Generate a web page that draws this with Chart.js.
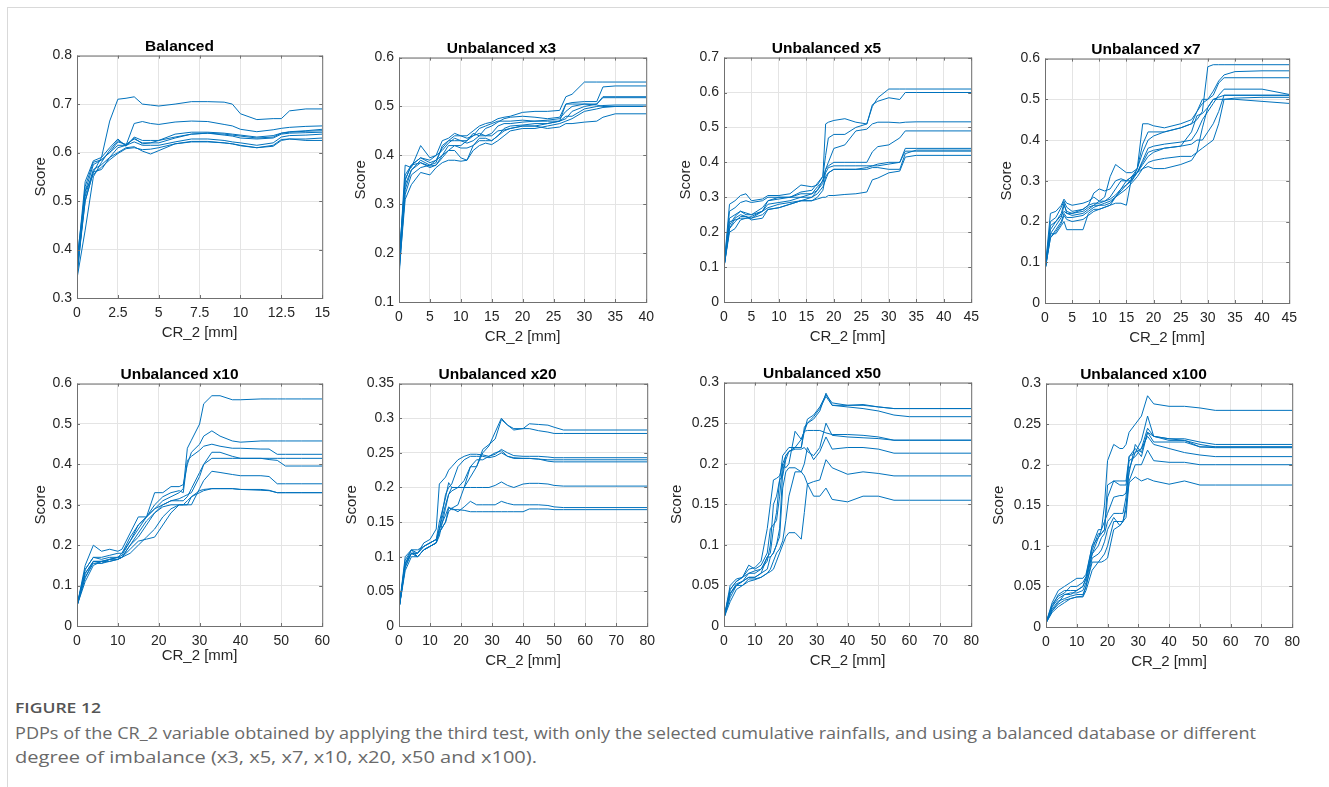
<!DOCTYPE html>
<html>
<head>
<meta charset="utf-8">
<title>PDPs of CR_2</title>
<script src="https://cdn.jsdelivr.net/npm/chart.js@4.4.1/dist/chart.umd.min.js"></script>
<style>
  html, body { margin: 0; padding: 0; background: #fff; }
  body { width: 1329px; height: 787px; position: relative; overflow: hidden; }
  #frame { position: absolute; left: 7px; top: 7px; right: 0; bottom: 0;
           border-top: 1px solid #d9d9d9; border-left: 1px solid #d9d9d9; }
  canvas.pdp { position: absolute; }
  .cap { position: absolute; left: 15px; white-space: nowrap; transform-origin: 0 50%;
         font-family: "Open Sans", "Noto Sans", sans-serif; }
  #capHead { top: 697px; font-size: 15px; line-height: 20px; font-weight: 600; color: #555; }
  .capLine { font-size: 16px; line-height: 24px; color: #6a6a6a; }
  #capLine1 { top: 721px; }
  #capLine2 { top: 745px; }
</style>
</head>
<body>
<div id="frame"></div>
<div id="capHead" class="cap" data-w="86">FIGURE 12</div>
<div id="capLine1" class="cap capLine" data-w="1241">PDPs of the CR_2 variable obtained by applying the third test, with only the selected cumulative rainfalls, and using a balanced database or different</div>
<div id="capLine2" class="cap capLine" data-w="522">degree of imbalance (x3, x5, x7, x10, x20, x50 and x100).</div>

<script>
// ---- Balanced ----
const xBal = [0, 0.5, 1, 1.5, 2, 2.5, 3, 3.5, 4, 4.5, 5, 6, 7, 8, 9, 9.5, 10, 11, 12, 12.5, 13, 14, 15];
const yBal = [
  [0.36, 0.50, 0.56, 0.59, 0.665, 0.71, 0.712, 0.715, 0.70, 0.698, 0.696, 0.70, 0.705, 0.705, 0.704, 0.70, 0.68, 0.668, 0.67, 0.67, 0.686, 0.69, 0.69],
  [0.35, 0.53, 0.58, 0.585, 0.60, 0.615, 0.615, 0.66, 0.664, 0.66, 0.658, 0.663, 0.665, 0.664, 0.658, 0.655, 0.648, 0.643, 0.647, 0.65, 0.652, 0.654, 0.655],
  [0.37, 0.54, 0.583, 0.59, 0.61, 0.628, 0.613, 0.632, 0.625, 0.625, 0.625, 0.638, 0.642, 0.642, 0.64, 0.638, 0.636, 0.632, 0.635, 0.64, 0.643, 0.645, 0.648],
  [0.34, 0.52, 0.575, 0.585, 0.60, 0.622, 0.617, 0.628, 0.62, 0.62, 0.62, 0.63, 0.638, 0.64, 0.638, 0.636, 0.634, 0.63, 0.632, 0.64, 0.642, 0.644, 0.645],
  [0.36, 0.51, 0.565, 0.575, 0.59, 0.61, 0.615, 0.622, 0.615, 0.615, 0.615, 0.622, 0.628, 0.628, 0.625, 0.622, 0.62, 0.615, 0.62, 0.632, 0.635, 0.636, 0.638],
  [0.35, 0.50, 0.56, 0.565, 0.59, 0.60, 0.61, 0.612, 0.603, 0.597, 0.604, 0.618, 0.623, 0.623, 0.62, 0.618, 0.615, 0.61, 0.613, 0.625, 0.628, 0.628, 0.63],
  [0.38, 0.52, 0.555, 0.57, 0.585, 0.598, 0.608, 0.61, 0.606, 0.607, 0.61, 0.618, 0.622, 0.622, 0.62, 0.618, 0.614, 0.61, 0.615, 0.627, 0.628, 0.625, 0.625],
  [0.34, 0.44, 0.55, 0.58, 0.605, 0.625, 0.615, 0.63, 0.618, 0.62, 0.625, 0.632, 0.638, 0.64, 0.636, 0.634, 0.63, 0.628, 0.63, 0.638, 0.64, 0.641, 0.642]
];
const xTicksBal = [0, 2.5, 5, 7.5, 10, 12.5, 15];
const yTicksBal = [0.3, 0.4, 0.5, 0.6, 0.7, 0.8];

// ---- Unbalanced x3 ----
const xU3 = [0, 1, 2, 3.5, 5, 6, 7, 8, 9, 10, 11, 12, 13, 14, 15, 16, 17, 18, 20, 22, 24, 26, 27, 28, 30, 32, 33, 35, 40];
const yU3 = [
  [0.16, 0.35, 0.38, 0.395, 0.39, 0.40, 0.43, 0.435, 0.445, 0.44, 0.44, 0.45, 0.46, 0.465, 0.468, 0.475, 0.478, 0.48, 0.488, 0.49, 0.49, 0.492, 0.52, 0.525, 0.55, 0.55, 0.55, 0.55, 0.55],
  [0.17, 0.38, 0.375, 0.42, 0.395, 0.40, 0.41, 0.425, 0.435, 0.43, 0.425, 0.43, 0.44, 0.455, 0.46, 0.468, 0.475, 0.478, 0.48, 0.478, 0.475, 0.478, 0.505, 0.508, 0.51, 0.51, 0.54, 0.542, 0.542],
  [0.18, 0.34, 0.37, 0.39, 0.38, 0.385, 0.42, 0.43, 0.43, 0.43, 0.43, 0.44, 0.445, 0.44, 0.445, 0.46, 0.465, 0.465, 0.468, 0.47, 0.472, 0.475, 0.49, 0.50, 0.505, 0.505, 0.52, 0.52, 0.52],
  [0.15, 0.33, 0.37, 0.385, 0.378, 0.38, 0.395, 0.41, 0.42, 0.415, 0.415, 0.42, 0.43, 0.43, 0.43, 0.44, 0.455, 0.46, 0.462, 0.465, 0.465, 0.47, 0.475, 0.49, 0.50, 0.505, 0.518, 0.518, 0.518],
  [0.17, 0.32, 0.36, 0.375, 0.38, 0.39, 0.40, 0.41, 0.41, 0.395, 0.39, 0.42, 0.435, 0.435, 0.43, 0.44, 0.45, 0.455, 0.46, 0.46, 0.465, 0.47, 0.48, 0.48, 0.495, 0.50, 0.502, 0.503, 0.503],
  [0.16, 0.31, 0.34, 0.365, 0.36, 0.375, 0.385, 0.39, 0.39, 0.388, 0.39, 0.41, 0.42, 0.425, 0.422, 0.43, 0.44, 0.45, 0.455, 0.455, 0.46, 0.465, 0.47, 0.475, 0.49, 0.495, 0.498, 0.50, 0.50],
  [0.19, 0.35, 0.38, 0.385, 0.375, 0.38, 0.40, 0.42, 0.42, 0.42, 0.43, 0.445, 0.44, 0.44, 0.44, 0.45, 0.452, 0.455, 0.46, 0.46, 0.455, 0.458, 0.465, 0.465, 0.468, 0.47, 0.478, 0.485, 0.485],
  [0.17, 0.36, 0.38, 0.395, 0.385, 0.39, 0.415, 0.43, 0.44, 0.44, 0.435, 0.44, 0.455, 0.46, 0.465, 0.47, 0.47, 0.47, 0.472, 0.47, 0.47, 0.47, 0.505, 0.505, 0.505, 0.503, 0.50, 0.50, 0.50]
];
const xTicksU3 = [0, 5, 10, 15, 20, 25, 30, 35, 40];
const yTicksU3 = [0.1, 0.2, 0.3, 0.4, 0.5, 0.6];

// ---- Unbalanced x5 ----
const xU5 = [0, 1, 2, 3, 4, 5, 7, 8, 10, 12, 14, 16, 17, 18, 18.5, 19, 20, 22, 24, 26, 27, 28, 30, 32, 33, 35, 45];
const yU5 = [
  [0.10, 0.28, 0.29, 0.305, 0.31, 0.29, 0.295, 0.305, 0.305, 0.31, 0.335, 0.33, 0.335, 0.36, 0.51, 0.515, 0.52, 0.525, 0.515, 0.51, 0.56, 0.585, 0.61, 0.61, 0.61, 0.61, 0.61],
  [0.10, 0.26, 0.27, 0.285, 0.29, 0.285, 0.29, 0.30, 0.30, 0.30, 0.315, 0.32, 0.34, 0.36, 0.42, 0.47, 0.48, 0.48, 0.50, 0.51, 0.565, 0.575, 0.585, 0.58, 0.60, 0.60, 0.60],
  [0.10, 0.24, 0.25, 0.26, 0.25, 0.25, 0.27, 0.29, 0.30, 0.30, 0.30, 0.31, 0.33, 0.345, 0.38, 0.40, 0.44, 0.45, 0.49, 0.495, 0.51, 0.515, 0.515, 0.513, 0.515, 0.516, 0.516],
  [0.10, 0.22, 0.245, 0.26, 0.255, 0.25, 0.26, 0.28, 0.285, 0.29, 0.30, 0.30, 0.32, 0.35, 0.38, 0.39, 0.40, 0.40, 0.40, 0.40, 0.43, 0.445, 0.45, 0.47, 0.49, 0.49, 0.49],
  [0.10, 0.21, 0.24, 0.25, 0.245, 0.24, 0.26, 0.29, 0.295, 0.30, 0.31, 0.31, 0.32, 0.34, 0.37, 0.385, 0.39, 0.39, 0.39, 0.39, 0.39, 0.395, 0.40, 0.40, 0.44, 0.44, 0.44],
  [0.10, 0.20, 0.21, 0.235, 0.24, 0.24, 0.25, 0.265, 0.27, 0.28, 0.29, 0.30, 0.31, 0.33, 0.35, 0.37, 0.38, 0.38, 0.38, 0.385, 0.39, 0.39, 0.395, 0.40, 0.432, 0.432, 0.432],
  [0.10, 0.21, 0.23, 0.245, 0.245, 0.235, 0.24, 0.265, 0.27, 0.28, 0.29, 0.29, 0.30, 0.32, 0.36, 0.37, 0.38, 0.38, 0.38, 0.38, 0.385, 0.385, 0.38, 0.38, 0.425, 0.435, 0.435],
  [0.10, 0.23, 0.235, 0.24, 0.24, 0.245, 0.26, 0.27, 0.28, 0.285, 0.29, 0.29, 0.295, 0.30, 0.30, 0.305, 0.305, 0.308, 0.31, 0.315, 0.35, 0.355, 0.37, 0.375, 0.415, 0.42, 0.42]
];
const xTicksU5 = [0, 5, 10, 15, 20, 25, 30, 35, 40, 45];
const yTicksU5 = [0, 0.1, 0.2, 0.3, 0.4, 0.5, 0.6, 0.7];

// ---- Unbalanced x7 ----
const xU7 = [0, 1, 2, 3, 3.5, 4, 5, 7, 8, 9, 10, 11, 12, 13, 14, 15, 16, 17, 18, 19, 20, 22, 25, 27, 28, 29, 30, 31, 32, 33, 35, 40, 45];
const yU7 = [
  [0.08, 0.22, 0.225, 0.24, 0.255, 0.245, 0.24, 0.245, 0.25, 0.26, 0.25, 0.25, 0.26, 0.28, 0.30, 0.30, 0.31, 0.33, 0.37, 0.40, 0.41, 0.42, 0.43, 0.44, 0.45, 0.47, 0.58, 0.585, 0.585, 0.585, 0.585, 0.585, 0.585],
  [0.08, 0.20, 0.21, 0.235, 0.25, 0.235, 0.225, 0.23, 0.24, 0.27, 0.28, 0.275, 0.28, 0.30, 0.305, 0.30, 0.30, 0.33, 0.44, 0.44, 0.435, 0.43, 0.44, 0.45, 0.47, 0.49, 0.50, 0.52, 0.545, 0.56, 0.568, 0.57, 0.57],
  [0.08, 0.18, 0.20, 0.22, 0.245, 0.22, 0.215, 0.22, 0.23, 0.24, 0.25, 0.26, 0.31, 0.34, 0.33, 0.32, 0.32, 0.33, 0.39, 0.42, 0.42, 0.42, 0.43, 0.44, 0.47, 0.50, 0.50, 0.51, 0.54, 0.553, 0.553, 0.553, 0.553],
  [0.08, 0.17, 0.19, 0.21, 0.24, 0.225, 0.22, 0.225, 0.235, 0.24, 0.24, 0.245, 0.25, 0.26, 0.28, 0.30, 0.31, 0.32, 0.35, 0.38, 0.385, 0.39, 0.395, 0.40, 0.42, 0.45, 0.47, 0.49, 0.51, 0.525, 0.525, 0.525, 0.512],
  [0.08, 0.16, 0.18, 0.20, 0.22, 0.21, 0.21, 0.215, 0.225, 0.235, 0.24, 0.24, 0.245, 0.26, 0.275, 0.29, 0.305, 0.32, 0.34, 0.36, 0.37, 0.38, 0.385, 0.39, 0.40, 0.40, 0.42, 0.44, 0.47, 0.51, 0.51, 0.51, 0.51],
  [0.08, 0.17, 0.17, 0.19, 0.20, 0.18, 0.18, 0.18, 0.22, 0.23, 0.23, 0.235, 0.24, 0.26, 0.27, 0.28, 0.295, 0.31, 0.33, 0.345, 0.35, 0.355, 0.36, 0.36, 0.37, 0.38, 0.39, 0.40, 0.44, 0.50, 0.503, 0.505, 0.505],
  [0.08, 0.16, 0.175, 0.195, 0.215, 0.205, 0.20, 0.205, 0.215, 0.225, 0.23, 0.235, 0.24, 0.245, 0.245, 0.24, 0.31, 0.32, 0.33, 0.335, 0.33, 0.33, 0.34, 0.35, 0.37, 0.43, 0.48, 0.50, 0.50, 0.50, 0.50, 0.495, 0.49],
  [0.08, 0.19, 0.20, 0.215, 0.225, 0.22, 0.22, 0.23, 0.24, 0.245, 0.245, 0.25, 0.255, 0.265, 0.28, 0.29, 0.30, 0.32, 0.345, 0.37, 0.375, 0.38, 0.385, 0.42, 0.46, 0.465, 0.48, 0.50, 0.505, 0.51, 0.51, 0.51, 0.51]
];
const xTicksU7 = [0, 5, 10, 15, 20, 25, 30, 35, 40, 45];
const yTicksU7 = [0, 0.1, 0.2, 0.3, 0.4, 0.5, 0.6];

// ---- Unbalanced x10 ----
const xU10 = [0, 2, 4, 6, 8, 10, 11, 13, 15, 17, 19, 21, 23, 25, 26, 27, 28, 30, 31, 33, 35, 38, 40, 45, 47, 49, 51, 55, 60];
const yU10 = [
  [0.05, 0.14, 0.17, 0.17, 0.175, 0.18, 0.18, 0.21, 0.24, 0.27, 0.29, 0.31, 0.32, 0.33, 0.34, 0.44, 0.46, 0.50, 0.55, 0.57, 0.57, 0.56, 0.56, 0.562, 0.562, 0.562, 0.562, 0.562, 0.562],
  [0.05, 0.15, 0.20, 0.185, 0.19, 0.185, 0.19, 0.23, 0.27, 0.27, 0.33, 0.33, 0.345, 0.345, 0.35, 0.40, 0.43, 0.45, 0.47, 0.483, 0.47, 0.458, 0.455, 0.458, 0.458, 0.458, 0.458, 0.458, 0.458],
  [0.05, 0.14, 0.17, 0.165, 0.17, 0.17, 0.18, 0.22, 0.25, 0.27, 0.30, 0.32, 0.33, 0.335, 0.33, 0.41, 0.42, 0.435, 0.445, 0.45, 0.445, 0.44, 0.44, 0.438, 0.438, 0.425, 0.425, 0.425, 0.425],
  [0.05, 0.13, 0.16, 0.16, 0.165, 0.17, 0.175, 0.21, 0.25, 0.27, 0.29, 0.30, 0.31, 0.315, 0.32, 0.325, 0.33, 0.37, 0.40, 0.43, 0.43, 0.42, 0.415, 0.415, 0.415, 0.415, 0.415, 0.415, 0.415],
  [0.05, 0.12, 0.155, 0.155, 0.165, 0.165, 0.17, 0.20, 0.23, 0.26, 0.28, 0.30, 0.31, 0.31, 0.31, 0.32, 0.34, 0.38, 0.40, 0.415, 0.415, 0.415, 0.415, 0.415, 0.412, 0.41, 0.396, 0.396, 0.396],
  [0.05, 0.13, 0.16, 0.16, 0.165, 0.17, 0.17, 0.20, 0.22, 0.25, 0.28, 0.295, 0.30, 0.30, 0.30, 0.30, 0.30, 0.34, 0.36, 0.383, 0.38, 0.375, 0.372, 0.372, 0.37, 0.352, 0.352, 0.352, 0.352],
  [0.05, 0.12, 0.16, 0.155, 0.16, 0.165, 0.17, 0.18, 0.20, 0.22, 0.24, 0.27, 0.29, 0.30, 0.30, 0.30, 0.32, 0.335, 0.338, 0.34, 0.34, 0.34, 0.338, 0.338, 0.336, 0.33, 0.33, 0.33, 0.33],
  [0.05, 0.11, 0.15, 0.16, 0.16, 0.165, 0.17, 0.19, 0.21, 0.215, 0.22, 0.25, 0.28, 0.30, 0.30, 0.31, 0.32, 0.33, 0.335, 0.34, 0.34, 0.34, 0.338, 0.336, 0.335, 0.33, 0.33, 0.33, 0.33]
];
const xTicksU10 = [0, 10, 20, 30, 40, 50, 60];
const yTicksU10 = [0, 0.1, 0.2, 0.3, 0.4, 0.5, 0.6];

// ---- Unbalanced x20 ----
const xU20 = [0, 2, 4, 6, 8, 10, 12, 13, 15, 16, 17, 19, 21, 23, 25, 27, 29, 31, 33, 35, 37, 40, 42, 45, 48, 50, 53, 60, 80];
const yU20 = [
  [0.025, 0.095, 0.11, 0.105, 0.115, 0.12, 0.125, 0.14, 0.175, 0.19, 0.20, 0.20, 0.20, 0.215, 0.23, 0.25, 0.26, 0.28, 0.30, 0.29, 0.283, 0.285, 0.292, 0.291, 0.29, 0.287, 0.283, 0.283, 0.283],
  [0.025, 0.10, 0.11, 0.11, 0.115, 0.12, 0.125, 0.135, 0.15, 0.165, 0.17, 0.175, 0.20, 0.23, 0.23, 0.255, 0.262, 0.27, 0.298, 0.29, 0.285, 0.285, 0.285, 0.282, 0.28, 0.278, 0.278, 0.278, 0.278],
  [0.025, 0.09, 0.105, 0.105, 0.12, 0.125, 0.14, 0.205, 0.215, 0.225, 0.23, 0.24, 0.245, 0.248, 0.248, 0.247, 0.245, 0.248, 0.255, 0.25, 0.246, 0.245, 0.245, 0.245, 0.244, 0.243, 0.243, 0.243, 0.243],
  [0.025, 0.085, 0.105, 0.10, 0.11, 0.115, 0.12, 0.14, 0.19, 0.20, 0.205, 0.23, 0.24, 0.245, 0.245, 0.245, 0.243, 0.245, 0.25, 0.245, 0.242, 0.242, 0.242, 0.241, 0.24, 0.24, 0.24, 0.24, 0.24],
  [0.025, 0.08, 0.10, 0.10, 0.11, 0.115, 0.12, 0.13, 0.17, 0.19, 0.195, 0.20, 0.21, 0.23, 0.24, 0.24, 0.245, 0.25, 0.253, 0.245, 0.243, 0.242, 0.242, 0.241, 0.238, 0.237, 0.237, 0.237, 0.237],
  [0.025, 0.09, 0.105, 0.105, 0.115, 0.12, 0.125, 0.15, 0.185, 0.207, 0.20, 0.20, 0.20, 0.20, 0.20, 0.20, 0.20, 0.203, 0.208, 0.203, 0.20, 0.205, 0.206, 0.206, 0.205, 0.203, 0.202, 0.202, 0.202],
  [0.025, 0.09, 0.11, 0.10, 0.11, 0.115, 0.12, 0.135, 0.15, 0.17, 0.17, 0.165, 0.172, 0.18, 0.175, 0.175, 0.175, 0.175, 0.18, 0.177, 0.175, 0.175, 0.175, 0.175, 0.174, 0.172, 0.171, 0.171, 0.171],
  [0.025, 0.085, 0.105, 0.10, 0.11, 0.115, 0.12, 0.14, 0.16, 0.172, 0.168, 0.168, 0.167, 0.165, 0.165, 0.165, 0.165, 0.165, 0.165, 0.165, 0.165, 0.165, 0.169, 0.169, 0.169, 0.168, 0.168, 0.168, 0.168]
];
const xTicksU20 = [0, 10, 20, 30, 40, 50, 60, 70, 80];
const yTicksU20 = [0, 0.05, 0.1, 0.15, 0.2, 0.25, 0.3, 0.35];

// ---- Unbalanced x50 ----
const xU50 = [0, 2, 4, 6, 8, 10, 12, 14, 15, 16, 17, 18, 19, 20, 21, 23, 25, 26, 27, 29, 31, 33, 35, 40, 45, 50, 55, 60, 80];
const yU50 = [
  [0.01, 0.045, 0.055, 0.06, 0.075, 0.07, 0.075, 0.09, 0.12, 0.125, 0.13, 0.16, 0.20, 0.21, 0.215, 0.22, 0.23, 0.24, 0.255, 0.26, 0.27, 0.285, 0.275, 0.272, 0.273, 0.27, 0.268, 0.268, 0.268],
  [0.01, 0.05, 0.058, 0.06, 0.065, 0.065, 0.07, 0.085, 0.09, 0.12, 0.14, 0.18, 0.21, 0.215, 0.22, 0.22, 0.22, 0.245, 0.25, 0.255, 0.265, 0.287, 0.272, 0.27, 0.268, 0.265, 0.26, 0.258, 0.258],
  [0.01, 0.045, 0.055, 0.06, 0.07, 0.072, 0.08, 0.12, 0.15, 0.18, 0.182, 0.185, 0.20, 0.195, 0.20, 0.24, 0.23, 0.24, 0.241, 0.241, 0.241, 0.238, 0.236, 0.236, 0.235, 0.233, 0.229, 0.229, 0.229],
  [0.01, 0.04, 0.052, 0.055, 0.06, 0.06, 0.065, 0.085, 0.085, 0.09, 0.10, 0.12, 0.19, 0.21, 0.215, 0.218, 0.218, 0.22, 0.215, 0.21, 0.22, 0.25, 0.235, 0.233, 0.232, 0.231, 0.229, 0.229, 0.229],
  [0.01, 0.04, 0.05, 0.055, 0.06, 0.06, 0.065, 0.07, 0.085, 0.09, 0.10, 0.11, 0.17, 0.19, 0.195, 0.195, 0.19, 0.20, 0.22, 0.205, 0.215, 0.233, 0.218, 0.22, 0.22, 0.218, 0.213, 0.213, 0.213],
  [0.01, 0.035, 0.05, 0.05, 0.058, 0.058, 0.06, 0.065, 0.07, 0.08, 0.09, 0.095, 0.105, 0.13, 0.16, 0.19, 0.19, 0.185, 0.175, 0.178, 0.18, 0.205, 0.195, 0.187, 0.19, 0.188, 0.185, 0.185, 0.185],
  [0.01, 0.03, 0.045, 0.05, 0.055, 0.057, 0.06, 0.065, 0.067, 0.07, 0.08, 0.09, 0.10, 0.11, 0.115, 0.115, 0.107, 0.14, 0.175, 0.16, 0.16, 0.17, 0.156, 0.153, 0.16, 0.16, 0.155, 0.155, 0.155],
  [0.01, 0.04, 0.05, 0.055, 0.065, 0.068, 0.07, 0.08, 0.10, 0.15, 0.16, 0.18, 0.185, 0.205, 0.215, 0.22, 0.22, 0.24, 0.25, 0.258, 0.268, 0.283, 0.272, 0.272, 0.272, 0.27, 0.268, 0.268, 0.268]
];
const xTicksU50 = [0, 10, 20, 30, 40, 50, 60, 70, 80];
const yTicksU50 = [0, 0.05, 0.1, 0.15, 0.2, 0.25, 0.3];

// ---- Unbalanced x100 ----
const xU100 = [0, 2, 4, 6, 8, 10, 12, 13, 15, 17, 18, 19, 20, 22, 24, 25, 26, 27, 29, 31, 33, 35, 40, 45, 50, 55, 80];
const yU100 = [
  [0.005, 0.03, 0.045, 0.05, 0.055, 0.06, 0.06, 0.065, 0.10, 0.12, 0.12, 0.15, 0.205, 0.225, 0.22, 0.22, 0.225, 0.24, 0.25, 0.26, 0.285, 0.275, 0.272, 0.272, 0.27, 0.267, 0.267],
  [0.005, 0.025, 0.04, 0.045, 0.045, 0.045, 0.05, 0.06, 0.095, 0.115, 0.115, 0.12, 0.175, 0.18, 0.18, 0.18, 0.18, 0.21, 0.215, 0.23, 0.26, 0.235, 0.232, 0.232, 0.228, 0.225, 0.225],
  [0.005, 0.025, 0.035, 0.04, 0.04, 0.045, 0.05, 0.06, 0.09, 0.11, 0.12, 0.13, 0.14, 0.16, 0.162, 0.162, 0.165, 0.19, 0.225, 0.215, 0.24, 0.235, 0.23, 0.23, 0.225, 0.222, 0.222],
  [0.005, 0.02, 0.03, 0.04, 0.042, 0.042, 0.045, 0.055, 0.09, 0.10, 0.11, 0.115, 0.13, 0.14, 0.14, 0.14, 0.16, 0.21, 0.22, 0.21, 0.24, 0.228, 0.228, 0.228, 0.222, 0.221, 0.221],
  [0.005, 0.022, 0.032, 0.035, 0.038, 0.04, 0.04, 0.05, 0.085, 0.09, 0.095, 0.105, 0.12, 0.135, 0.125, 0.13, 0.145, 0.195, 0.215, 0.22, 0.235, 0.225, 0.22, 0.215, 0.212, 0.21, 0.21],
  [0.005, 0.02, 0.028, 0.033, 0.035, 0.037, 0.038, 0.05, 0.08, 0.08, 0.085, 0.09, 0.10, 0.13, 0.13, 0.13, 0.135, 0.18, 0.20, 0.20, 0.218, 0.205, 0.203, 0.203, 0.20, 0.20, 0.20],
  [0.005, 0.018, 0.025, 0.03, 0.035, 0.037, 0.037, 0.045, 0.07, 0.08, 0.08, 0.082, 0.085, 0.12, 0.125, 0.13, 0.15, 0.178, 0.185, 0.18, 0.183, 0.18, 0.176, 0.18, 0.175, 0.175, 0.175],
  [0.005, 0.028, 0.038, 0.042, 0.05, 0.05, 0.055, 0.062, 0.10, 0.11, 0.115, 0.12, 0.16, 0.18, 0.175, 0.175, 0.175, 0.205, 0.21, 0.22, 0.245, 0.235, 0.232, 0.23, 0.222, 0.222, 0.222]
];
const xTicksU100 = [0, 10, 20, 30, 40, 50, 60, 70, 80];
const yTicksU100 = [0, 0.05, 0.1, 0.15, 0.2, 0.25, 0.3];

const LINE_COLOR = '#0072BD';
const FONT = '"Liberation Sans", Arial, Helvetica, sans-serif';

// canvas placement: left/top/width/height, y-axis width, x-axis height, gap under title
const panels = [
  { title: 'Balanced',        x: xBal,  ys: yBal,  xt: xTicksBal,  yt: yTicksBal,  box: [32, 37, 305, 305],  yw: 45, xh: 44, tp: 0 },
  { title: 'Unbalanced x3',   x: xU3,   ys: yU3,   xt: xTicksU3,   yt: yTicksU3,   box: [352, 39, 309, 307], yw: 47, xh: 44, tp: 0 },
  { title: 'Unbalanced x5',   x: xU5,   ys: yU5,   xt: xTicksU5,   yt: yTicksU5,   box: [677, 39, 309, 307], yw: 47, xh: 44, tp: 0 },
  { title: 'Unbalanced x7',   x: xU7,   ys: yU7,   xt: xTicksU7,   yt: yTicksU7,   box: [998, 40, 306, 307], yw: 47, xh: 44, tp: 0 },
  { title: 'Unbalanced x10',  x: xU10,  ys: yU10,  xt: xTicksU10,  yt: yTicksU10,  box: [32, 365, 305, 300], yw: 45, xh: 39, tp: 0 },
  { title: 'Unbalanced x20',  x: xU20,  ys: yU20,  xt: xTicksU20,  yt: yTicksU20,  box: [343, 365, 319, 305], yw: 56, xh: 44, tp: 0 },
  { title: 'Unbalanced x50',  x: xU50,  ys: yU50,  xt: xTicksU50,  yt: yTicksU50,  box: [668, 364, 318, 306], yw: 56, xh: 44, tp: 0 },
  { title: 'Unbalanced x100', x: xU100, ys: yU100, xt: xTicksU100, yt: yTicksU100, box: [990, 365, 317, 306], yw: 56, xh: 44, tp: 0 }
];

// MATLAB-style box with short inward ticks on all four sides
const axesBox = {
  id: 'axesBox',
  afterDatasetsDraw(chart) {
    const { ctx, chartArea: a, scales: { x, y } } = chart;
    const t = 3;
    ctx.save();
    ctx.strokeStyle = '#707070';
    ctx.lineWidth = 1;
    ctx.beginPath();
    x.ticks.forEach(tk => {
      const px = Math.round(x.getPixelForValue(tk.value)) + 0.5;
      ctx.moveTo(px, a.bottom); ctx.lineTo(px, a.bottom - t);
      ctx.moveTo(px, a.top); ctx.lineTo(px, a.top + t);
    });
    y.ticks.forEach(tk => {
      const py = Math.round(y.getPixelForValue(tk.value)) + 0.5;
      ctx.moveTo(a.left, py); ctx.lineTo(a.left + t, py);
      ctx.moveTo(a.right, py); ctx.lineTo(a.right - t, py);
    });
    ctx.stroke();
    ctx.strokeRect(a.left + 0.5, a.top + 0.5, a.right - a.left, a.bottom - a.top);
    ctx.restore();
  }
};

const fmt = v => String(+Number(v).toFixed(3));

panels.forEach(p => {
  const [left, top, w, h] = p.box;
  const cv = document.createElement('canvas');
  cv.className = 'pdp';
  cv.width = w; cv.height = h;
  cv.style.left = left + 'px'; cv.style.top = top + 'px';
  cv.style.width = w + 'px'; cv.style.height = h + 'px';
  document.body.appendChild(cv);

  const datasets = p.ys.map(series => ({
    data: series.map((v, i) => ({ x: p.x[i], y: v })),
    borderColor: LINE_COLOR,
    borderWidth: 1,
    pointRadius: 0,
    tension: 0,
    fill: false
  }));

  new Chart(cv, {
    type: 'line',
    data: { datasets },
    plugins: [axesBox],
    options: {
      responsive: false,
      animation: false,
      layout: { padding: { left: 0, right: 10, top: 0, bottom: 0 } },
      plugins: {
        legend: { display: false },
        tooltip: { enabled: false },
        title: {
          display: true, text: p.title, color: '#000',
          font: { family: FONT, size: 15.5, weight: 'bold' },
          padding: { top: 0, bottom: p.tp }
        }
      },
      scales: {
        x: {
          type: 'linear',
          min: p.xt[0], max: p.xt[p.xt.length - 1],
          afterBuildTicks: s => { s.ticks = p.xt.map(v => ({ value: v })); },
          afterFit: s => { s.height = p.xh; },
          grid: { color: '#e4e4e4', drawTicks: false },
          border: { display: false },
          ticks: { autoSkip: false, maxRotation: 0, padding: 7, color: '#262626',
                   font: { family: FONT, size: 14 }, callback: fmt },
          title: { display: true, text: 'CR_2 [mm]', color: '#262626', padding: 0,
                   font: { family: FONT, size: 15 } }
        },
        y: {
          type: 'linear',
          min: p.yt[0], max: p.yt[p.yt.length - 1],
          afterBuildTicks: s => { s.ticks = p.yt.map(v => ({ value: v })); },
          afterFit: s => { s.width = p.yw; },
          grid: { color: '#e4e4e4', drawTicks: false },
          border: { display: false },
          ticks: { autoSkip: false, padding: 5, color: '#262626',
                   font: { family: FONT, size: 14 }, callback: fmt },
          title: { display: true, text: 'Score', color: '#262626', padding: 0,
                   font: { family: FONT, size: 15 } }
        }
      }
    }
  });
});

// stretch caption lines to their set widths
document.querySelectorAll('.cap').forEach(el => {
  const target = +el.dataset.w;
  const actual = el.getBoundingClientRect().width;
  if (actual > 0) el.style.transform = 'scaleX(' + (target / actual).toFixed(4) + ')';
});
</script>
</body>
</html>
